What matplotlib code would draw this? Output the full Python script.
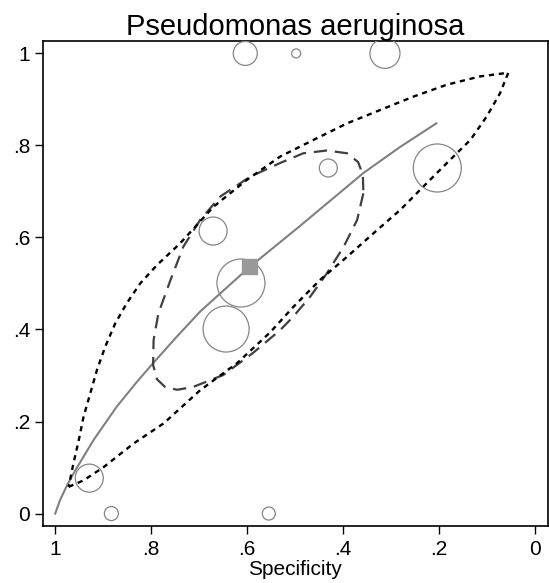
import matplotlib.pyplot as plt

plt.rcParams['font.family'] = ['Liberation Sans', 'DejaVu Sans']

# --- study estimates (specificity, sensitivity, relative weight) ---
study_spec = [0.604, 0.498, 0.313, 0.204, 0.431, 0.671, 0.613, 0.644, 0.929, 0.883, 0.555]
study_sens = [1.000, 1.000, 1.000, 0.751, 0.751, 0.614, 0.501, 0.401, 0.077, 0.000, 0.000]
study_weight = [12.0, 4.5, 15.0, 24.0, 9.0, 14.0, 24.0, 23.0, 14.0, 7.0, 6.5]

# summary operating point
summ_spec = 0.597
summ_sens = 0.539

# SROC curve
sroc_spec = [1.0, 0.990, 0.975, 0.958, 0.920, 0.872, 0.830, 0.795, 0.747, 0.698,
             0.597, 0.490, 0.358, 0.281, 0.206]
sroc_sens = [0.0, 0.029, 0.062, 0.094, 0.160, 0.232, 0.286, 0.328, 0.384, 0.439,
             0.534, 0.625, 0.740, 0.797, 0.848]

# 95% confidence region
conf_spec = [0.358, 0.371, 0.399, 0.434, 0.469, 0.504, 0.531, 0.588, 0.650, 0.713,
             0.746, 0.771, 0.788, 0.796, 0.795, 0.785, 0.760, 0.733, 0.698,
             0.656, 0.594, 0.531, 0.483, 0.434, 0.392, 0.369, 0.359, 0.358]
conf_sens = [0.696, 0.638, 0.580, 0.522, 0.471, 0.428, 0.399, 0.349, 0.301, 0.275,
             0.269, 0.275, 0.292, 0.323, 0.377, 0.435, 0.507, 0.580, 0.638,
             0.689, 0.732, 0.762, 0.783, 0.789, 0.783, 0.764, 0.736, 0.696]

# 95% prediction region
pred_spec = [0.972, 0.941, 0.899, 0.837, 0.774, 0.698, 0.621, 0.552, 0.504, 0.448,
             0.392, 0.337, 0.281, 0.226, 0.177, 0.135, 0.101, 0.073, 0.056,
             0.115, 0.184, 0.254, 0.323, 0.392, 0.462, 0.531, 0.601, 0.670, 0.740,
             0.788, 0.823, 0.851, 0.875, 0.896, 0.913, 0.927, 0.941, 0.951, 0.962,
             0.972]
pred_sens = [0.058, 0.072, 0.101, 0.152, 0.196, 0.268, 0.327, 0.394, 0.449, 0.508,
             0.558, 0.609, 0.660, 0.718, 0.769, 0.812, 0.863, 0.914, 0.958,
             0.950, 0.932, 0.906, 0.877, 0.848, 0.812, 0.776, 0.725, 0.667, 0.587,
             0.540, 0.500, 0.457, 0.413, 0.362, 0.312, 0.261, 0.210, 0.159, 0.109,
             0.058]

fig = plt.figure(figsize=(5.49, 5.83), dpi=100)
ax = fig.add_axes([0.0778, 0.0978, 0.9198, 0.8319])

# bubbles: radius in px -> marker size in points^2
sizes = [(2 * r * 0.72) ** 2 for r in study_weight]
ax.scatter(study_spec, study_sens, s=sizes, facecolors='none', edgecolors='#858585',
           linewidths=0.9, zorder=3)

ax.plot(sroc_spec, sroc_sens, color='#808080', lw=1.5, zorder=2)
ax.plot(conf_spec, conf_sens, color='#404040', lw=1.6, dashes=(6, 3.5), zorder=2)
ax.plot(pred_spec, pred_sens, color='black', lw=1.7, dashes=(2.2, 2.0), zorder=2)
ax.scatter([summ_spec], [summ_sens], marker='s', s=(15 * 0.72) ** 2,
           color='#999999', edgecolors='#999999', zorder=4)

ax.set_xlim(1.026, -0.026)
ax.set_ylim(-0.027, 1.027)
ax.set_xticks([1, 0.8, 0.6, 0.4, 0.2, 0])
ax.set_xticklabels(['1', '.8', '.6', '.4', '.2', '0'])
ax.set_yticks([0, 0.2, 0.4, 0.6, 0.8, 1])
ax.set_yticklabels(['0', '.2', '.4', '.6', '.8', '1'])
ax.tick_params(direction='out', length=6, width=1, labelsize=15, pad=3, colors='black')
ax.tick_params(axis='x', pad=4)
for sp in ax.spines.values():
    sp.set_linewidth(1.2)

ax.set_xlabel('Specificity', fontsize=15, labelpad=0.5)
ax.set_title('Pseudomonas aeruginosa', fontsize=21, pad=2)

fig.savefig('out.png', dpi=100)
